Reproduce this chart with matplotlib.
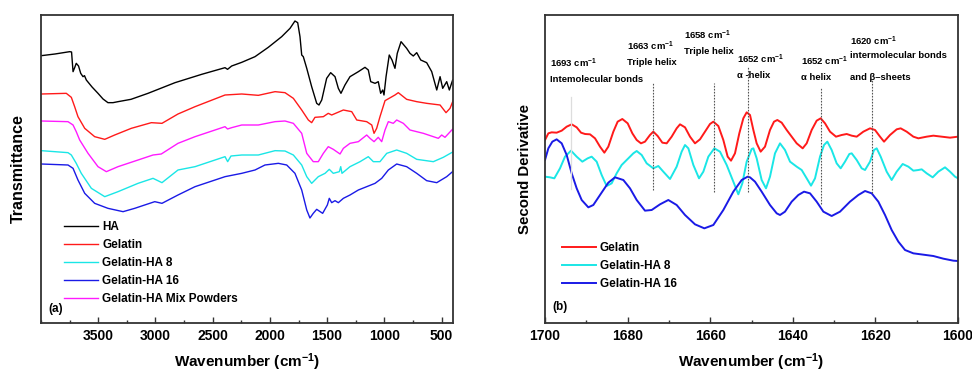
import matplotlib
matplotlib.use("Agg")
import matplotlib.pyplot as plt
from matplotlib.ticker import MultipleLocator, FixedLocator

plt.rcParams['font.family'] = ['Liberation Sans', 'DejaVu Sans']
plt.rcParams['font.weight'] = 'bold'
plt.rcParams['mathtext.fontset'] = 'custom'
plt.rcParams['mathtext.rm'] = 'Liberation Sans:bold'
plt.rcParams['mathtext.bf'] = 'Liberation Sans:bold'
plt.rcParams['mathtext.it'] = 'Liberation Sans:bold'

# ---------------- Panel (a): FTIR spectra ----------------
ha_wn = [3997, 3878, 3749, 3733, 3720, 3707, 3692, 3672, 3653, 3633, 3620, 3604, 3554, 3502,
         3458, 3415, 3371, 3327, 3214, 3065, 2829, 2596, 2392, 2370, 2334, 2246, 2130, 2014,
         1897, 1824, 1781, 1757, 1737, 1722, 1708, 1678, 1635, 1591, 1571, 1547, 1504, 1469,
         1431, 1402, 1379, 1344, 1300, 1227, 1169, 1140, 1119, 1081, 1053, 1032, 1014, 1003,
         985, 957, 933, 907, 887, 854, 805, 776, 747, 717, 682, 630, 586, 542, 513, 490, 455,
         432, 403]
ha_t = [80.2, 80.7, 81.4, 81.3, 75.4, 76.5, 77.9, 77.1, 74.9, 73.9, 74.2, 72.9, 70.8, 68.9,
        67.2, 66.1, 66.1, 66.4, 67.1, 68.9, 72.1, 74.6, 76.6, 76.1, 77.1, 78.2, 79.9, 82.7,
        85.9, 88.4, 90.6, 90.1, 85.9, 80.4, 79.9, 76.4, 70.9, 65.9, 65.4, 66.9, 73.4, 75.1,
        73.9, 70.4, 68.9, 71.4, 73.9, 75.4, 76.7, 75.9, 72.4, 71.9, 72.4, 68.9, 69.9, 68.4,
        73.9, 80.4, 78.9, 76.4, 80.9, 84.4, 82.4, 80.9, 80.1, 81.1, 78.9, 78.1, 75.4, 69.9,
        73.9, 70.4, 72.4, 69.9, 72.9]

gel_wn = [3997, 3779, 3735, 3706, 3677, 3618, 3531, 3443, 3356, 3211, 3036, 2943, 2803, 2654,
          2392, 2246, 2101, 1955, 1868, 1795, 1722, 1664, 1635, 1606, 1533, 1490, 1460, 1358,
          1285, 1241, 1154, 1110, 1090, 1067, 1038, 994, 907, 878, 805, 717, 630, 513, 461,
          426, 397]
gel_t = [68.7, 68.9, 67.7, 64.9, 61.9, 58.4, 55.9, 55.1, 56.4, 58.4, 60.1, 59.9, 62.7, 64.9,
         68.4, 68.7, 68.3, 69.4, 69.1, 67.4, 63.9, 60.9, 60.1, 61.7, 61.9, 62.9, 62.4, 63.9,
         63.4, 60.9, 60.4, 59.4, 56.9, 58.4, 61.9, 66.7, 68.4, 69.1, 67.1, 66.4, 65.9, 65.4,
         63.1, 64.4, 66.9]

mix_wn = [3997, 3764, 3720, 3692, 3662, 3589, 3502, 3429, 3327, 3152, 3021, 2949, 2803, 2654,
          2392, 2370, 2334, 2246, 2101, 1955, 1868, 1795, 1722, 1678, 1621, 1577, 1533, 1490,
          1446, 1387, 1358, 1300, 1227, 1154, 1125, 1090, 1053, 1023, 994, 965, 922, 892, 834,
          776, 659, 572, 528, 499, 470, 397]
mix_t = [60.6, 60.4, 59.4, 57.4, 54.9, 50.9, 46.9, 45.4, 46.9, 48.9, 50.4, 50.7, 53.9, 55.9,
         58.9, 58.2, 58.6, 59.4, 59.4, 60.4, 60.6, 59.9, 56.9, 50.9, 48.4, 48.4, 50.9, 52.9,
         52.1, 50.7, 52.4, 53.9, 54.4, 56.4, 55.4, 54.4, 55.7, 54.4, 57.9, 60.4, 59.9, 60.9,
         59.9, 57.9, 56.9, 55.9, 55.4, 56.4, 55.7, 58.4]

ha8_wn = [3997, 3764, 3735, 3692, 3648, 3560, 3443, 3327, 3152, 3021, 2943, 2803, 2654, 2392,
          2369, 2340, 2246, 2101, 1955, 1868, 1795, 1722, 1678, 1635, 1577, 1518, 1481, 1446,
          1393, 1381, 1370, 1300, 1212, 1140, 1096, 1038, 979, 892, 805, 717, 572, 485, 397]
ha8_t = [51.7, 51.1, 50.4, 47.9, 44.9, 40.4, 37.9, 39.4, 41.9, 43.4, 42.1, 45.9, 46.9, 49.9,
         48.4, 50.1, 50.4, 50.4, 51.7, 51.6, 50.4, 47.4, 43.9, 41.9, 43.9, 44.9, 46.1, 44.9,
         45.4, 46.9, 44.9, 46.9, 48.4, 49.9, 48.4, 48.4, 50.9, 51.9, 50.9, 49.1, 48.4, 49.7,
         51.4]

ha16_wn = [3997, 3764, 3720, 3677, 3618, 3531, 3415, 3283, 3181, 3094, 3006, 2943, 2803, 2654,
           2392, 2246, 2130, 2043, 1926, 1853, 1781, 1722, 1678, 1650, 1621, 1591, 1539, 1498,
           1481, 1460, 1431, 1402, 1358, 1300, 1227, 1154, 1081, 1023, 965, 892, 805, 717,
           630, 542, 455, 397]
ha16_t = [47.7, 47.4, 46.4, 42.9, 38.9, 35.9, 34.4, 33.4, 34.4, 35.4, 36.4, 35.9, 38.4, 40.9,
          43.9, 44.9, 45.9, 47.4, 47.9, 47.4, 44.9, 39.9, 33.9, 31.5, 32.9, 34.1, 32.9, 35.4,
          37.4, 36.1, 36.7, 36.1, 37.4, 38.4, 39.9, 40.9, 41.9, 43.4, 45.9, 47.7, 46.9, 44.9,
          42.7, 42.1, 43.9, 45.6]

a_labels = ["HA", "Gelatin", "Gelatin-HA 8", "Gelatin-HA 16", "Gelatin-HA Mix Powders"]
a_colors = ["#000000", "#FF1A1A", "#1AE6E6", "#1A1AE6", "#FF1AFF"]
a_major = [3500, 3000, 2500, 2000, 1500, 1000, 500]

# ---------------- Panel (b): second derivative ----------------
sd_gel_wn = [1700.00, 1699.19, 1698.39, 1697.18, 1695.96, 1694.75, 1693.54, 1692.33, 1691.28,
             1690.31, 1689.10, 1687.89, 1686.68, 1685.63, 1684.67, 1683.45, 1682.41, 1681.28,
             1679.98, 1678.85, 1677.80, 1676.76, 1675.79, 1674.58, 1673.77, 1672.72, 1671.59,
             1670.54, 1669.33, 1668.12, 1667.31, 1666.10, 1664.89, 1663.68, 1662.47, 1661.26,
             1660.05, 1659.24, 1658.03, 1656.82, 1655.77, 1654.96, 1654.00, 1652.95, 1651.98,
             1651.17, 1650.36, 1649.55, 1648.75, 1647.78, 1646.73, 1645.52, 1644.55, 1643.74,
             1642.69, 1641.48, 1640.27, 1639.06, 1637.61, 1636.64, 1635.43, 1634.22, 1633.25,
             1632.20, 1630.99, 1629.54, 1628.16, 1626.95, 1625.74, 1624.53, 1622.92, 1621.30,
             1620.09, 1618.88, 1617.91, 1616.46, 1614.85, 1613.88, 1612.43, 1610.81, 1609.60,
             1607.58, 1605.97, 1603.95, 1601.93, 1600.00]
sd_gel = [54.9, 56.9, 57.2, 57.1, 57.7, 58.9, 59.6, 58.7, 57.1,
          56.7, 56.6, 55.4, 52.9, 51.1, 52.9, 57.4, 60.4, 61.2,
          59.9, 56.9, 54.9, 53.9, 54.4, 56.4, 57.4, 56.1, 54.1,
          53.9, 55.9, 58.4, 59.6, 58.7, 55.9, 53.9, 55.1, 57.4,
          59.7, 60.4, 59.1, 54.9, 49.9, 48.7, 50.9, 56.9, 61.4,
          63.2, 62.4, 57.9, 53.9, 51.4, 52.9, 57.9, 60.4, 60.9,
          60.1, 57.9, 55.9, 53.9, 52.4, 53.9, 57.9, 60.7, 61.4,
          59.9, 57.4, 55.9, 56.4, 56.7, 56.2, 55.9, 57.4, 58.4,
          57.9, 55.9, 54.4, 56.4, 58.1, 58.4, 57.4, 55.9, 55.4,
          55.9, 56.2, 55.9, 55.6, 55.9]

sd_ha8_wn = [1700.00, 1698.79, 1697.74, 1696.37, 1695.16, 1693.70, 1692.33, 1690.96, 1689.67,
             1688.70, 1687.49, 1686.28, 1685.07, 1683.86, 1682.65, 1681.44, 1679.82, 1678.61,
             1677.80, 1676.59, 1675.38, 1673.77, 1672.56, 1671.35, 1669.73, 1668.12, 1666.91,
             1666.10, 1665.29, 1664.08, 1662.71, 1661.66, 1660.45, 1659.00, 1657.63, 1656.01,
             1654.40, 1653.19, 1652.22, 1651.17, 1649.96, 1649.55, 1648.75, 1647.54, 1646.49,
             1645.52, 1644.31, 1643.10, 1641.89, 1640.67, 1639.06, 1637.85, 1636.64, 1635.59,
             1634.62, 1633.41, 1632.44, 1631.64, 1630.59, 1629.38, 1628.41, 1627.36, 1626.31,
             1625.74, 1624.53, 1623.32, 1622.51, 1621.30, 1620.34, 1619.69, 1618.72, 1617.27,
             1616.06, 1614.85, 1613.39, 1612.02, 1610.81, 1609.60, 1608.79, 1607.58, 1606.13,
             1604.76, 1603.14, 1601.93, 1600.72, 1600.00]
sd_ha8 = [43.9, 43.7, 43.4, 46.4, 49.9, 51.7, 49.9, 48.4, 49.4,
          49.9, 48.4, 44.4, 41.1, 41.9, 44.9, 47.4, 49.4, 50.9,
          51.6, 50.4, 47.9, 46.4, 47.1, 45.4, 43.2, 46.9, 51.4,
          53.4, 52.4, 47.4, 43.4, 45.4, 49.9, 52.4, 51.4, 47.4,
          42.4, 38.6, 41.9, 48.4, 52.2, 52.4, 49.4, 42.9, 40.4,
          43.9, 50.9, 53.9, 51.9, 48.4, 46.9, 45.9, 43.4, 41.2,
          43.4, 49.9, 53.4, 54.4, 51.9, 47.9, 46.4, 48.4, 50.7,
          50.9, 48.9, 46.4, 45.9, 48.4, 51.9, 52.4, 49.9, 45.4,
          42.9, 45.4, 47.7, 46.9, 45.7, 45.9, 46.1, 44.9, 43.7,
          45.4, 46.7, 45.4, 43.9, 43.4]

sd_ha16_wn = [1700.00, 1699.19, 1698.22, 1697.18, 1695.96, 1694.75, 1693.54, 1692.33, 1691.12,
              1689.51, 1688.30, 1686.68, 1684.67, 1683.05, 1681.03, 1679.42, 1677.80, 1675.79,
              1674.17, 1672.15, 1670.14, 1668.12, 1666.10, 1663.68, 1661.42, 1659.24, 1656.82,
              1654.40, 1652.38, 1650.93, 1650.36, 1649.15, 1647.54, 1645.52, 1643.90, 1643.10,
              1641.89, 1640.27, 1638.66, 1637.28, 1635.83, 1634.22, 1632.60, 1630.59, 1628.57,
              1626.15, 1624.13, 1622.51, 1620.90, 1619.29, 1617.67, 1616.06, 1614.44, 1612.83,
              1610.81, 1608.39, 1605.97, 1603.55, 1601.13, 1600.00]
sd_ha16 = [48.9, 52.4, 54.4, 55.1, 53.9, 50.4, 44.9, 40.4, 36.9,
           34.7, 35.4, 38.4, 42.1, 43.7, 42.9, 40.4, 36.9, 33.7,
           33.9, 35.6, 36.9, 35.4, 32.4, 29.6, 28.4, 29.4, 33.9,
           39.4, 42.9, 43.9, 43.7, 42.4, 39.4, 35.4, 32.9, 32.4,
           33.4, 36.4, 38.4, 39.4, 38.9, 36.4, 33.4, 32.1, 33.4,
           36.4, 38.4, 39.6, 38.9, 36.4, 32.4, 27.9, 24.4, 21.9,
           20.9, 20.5, 20.1, 19.3, 18.7, 18.6]

b_labels = ["Gelatin", "Gelatin-HA 8", "Gelatin-HA 16"]
b_colors = ["#FF1A1A", "#1AE6E6", "#1A1AE6"]

peak_lines = [1693.7, 1673.8, 1659.2, 1650.8, 1633.2, 1620.9]
peak_texts = [
    ["1693 cm$^{-1}$", "Intemolecular bonds"],
    ["1663 cm$^{-1}$", "Triple helix"],
    ["1658 cm$^{-1}$", "Triple helix"],
    ["1652 cm$^{-1}$", "\u03b1 -helix"],
    ["1652 cm$^{-1}$", "\u03b1 helix"],
    ["1620 cm$^{-1}$", "intermolecular bonds", "and \u03b2\u2013sheets"],
]

# ---------------- Figure ----------------
fig = plt.figure(figsize=(9.72, 3.73), dpi=100)
W, H = 972.0, 373.0
ax1 = fig.add_axes([41 / W, 50 / H, 412 / W, 308 / H])
ax2 = fig.add_axes([545 / W, 50 / H, 413 / W, 308 / H])

spine_col = "#333333"
for ax in (ax1, ax2):
    for s in ax.spines.values():
        s.set_color(spine_col)
        s.set_linewidth(1.3)
    ax.set_yticks([])
    ax.tick_params(axis='x', which='both', direction='in', top=False, colors=spine_col,
                   labelcolor='black', labelsize=10, pad=4)
    ax.tick_params(axis='x', which='major', length=4, width=1.0)
    ax.tick_params(axis='x', which='minor', length=2.5, width=1.0)

series_a = [(ha_wn, ha_t), (gel_wn, gel_t), (ha8_wn, ha8_t), (ha16_wn, ha16_t), (mix_wn, mix_t)]
for (x, y), lab, c in zip(series_a, a_labels, a_colors):
    ax1.plot(x, y, color=c, lw=1.0, label=lab)
ax1.set_xlim(4000, 400)
ax1.set_ylim(0, 92.4)
ax1.xaxis.set_major_locator(FixedLocator(a_major))
ax1.xaxis.set_minor_locator(MultipleLocator(250))
ax1.set_xticklabels([str(v) for v in a_major], fontweight='bold')
ax1.set_xlabel("Wavenumber (cm$^{-1}$)", fontsize=11, fontweight='bold')
ax1.xaxis.set_label_coords(0.5, -0.092)
ax1.set_ylabel("Transmittance", fontsize=11.5, fontweight='bold')
ax1.yaxis.set_label_coords(-0.037, 0.5)
ax1.legend(loc='upper left', bbox_to_anchor=(0.056, 0.330), frameon=False, fontsize=8.5,
           handlelength=2.9, handletextpad=0.35, labelspacing=0.5, borderpad=0,
           borderaxespad=0)
ax1.text(0.017, 0.045, "(a)", transform=ax1.transAxes, fontsize=8.5, fontweight='bold',
         va='center', ha='left')

series_b = [(sd_gel_wn, sd_gel), (sd_ha8_wn, sd_ha8), (sd_ha16_wn, sd_ha16)]
for (x, y), lab, c in zip(series_b, b_labels, b_colors):
    ax2.plot(x, y, color=c, lw=1.4, label=lab, solid_joinstyle='round')
ax2.set_xlim(1700, 1600)
ax2.set_ylim(0, 92.4)
ax2.xaxis.set_major_locator(MultipleLocator(20))
ax2.xaxis.set_minor_locator(MultipleLocator(10))
for lab in ax2.get_xticklabels():
    lab.set_fontweight('bold')
ax2.set_xlabel("Wavenumber (cm$^{-1}$)", fontsize=11, fontweight='bold')
ax2.xaxis.set_label_coords(0.5, -0.092)
ax2.set_ylabel("Second Derivative", fontsize=10.8, fontweight='bold')
ax2.yaxis.set_label_coords(-0.031, 0.5)
ax2.legend(loc='upper left', bbox_to_anchor=(0.040, 0.262), frameon=False, fontsize=8.5,
           handlelength=2.9, handletextpad=0.35, labelspacing=0.5, borderpad=0,
           borderaxespad=0)
ax2.text(0.017, 0.052, "(b)", transform=ax2.transAxes, fontsize=8.5, fontweight='bold',
         va='center', ha='left')

# peak marker lines
line_spans = [(40.2, 67.9), (39.9, 72.4), (39.2, 71.9), (39.4, 76.9), (35.7, 70.7), (39.1, 73.2)]
for i, (xv, (y0, y1)) in enumerate(zip(peak_lines, line_spans)):
    if i == 0:
        ax2.plot([xv, xv], [y0, y1], color="#DDDDDD", lw=0.9)
    else:
        ax2.plot([xv, xv], [y0, y1], color="#555555", lw=0.8, ls=(0, (1.5, 1.2)))

text_pos = [(1698.8, [77.9, 73.1]), (1680.1, [83.1, 78.2]), (1666.4, [86.4, 81.4]),
            (1653.4, [79.2, 74.3]), (1637.9, [78.6, 73.8]), (1626.2, [84.6, 80.2, 73.6])]
for (tx, ys), lines in zip(text_pos, peak_texts):
    for ty, s in zip(ys, lines):
        ax2.text(tx, ty, s, fontsize=6.8, fontweight='bold', ha='left', va='center')

fig.savefig("out.png", dpi=100)
